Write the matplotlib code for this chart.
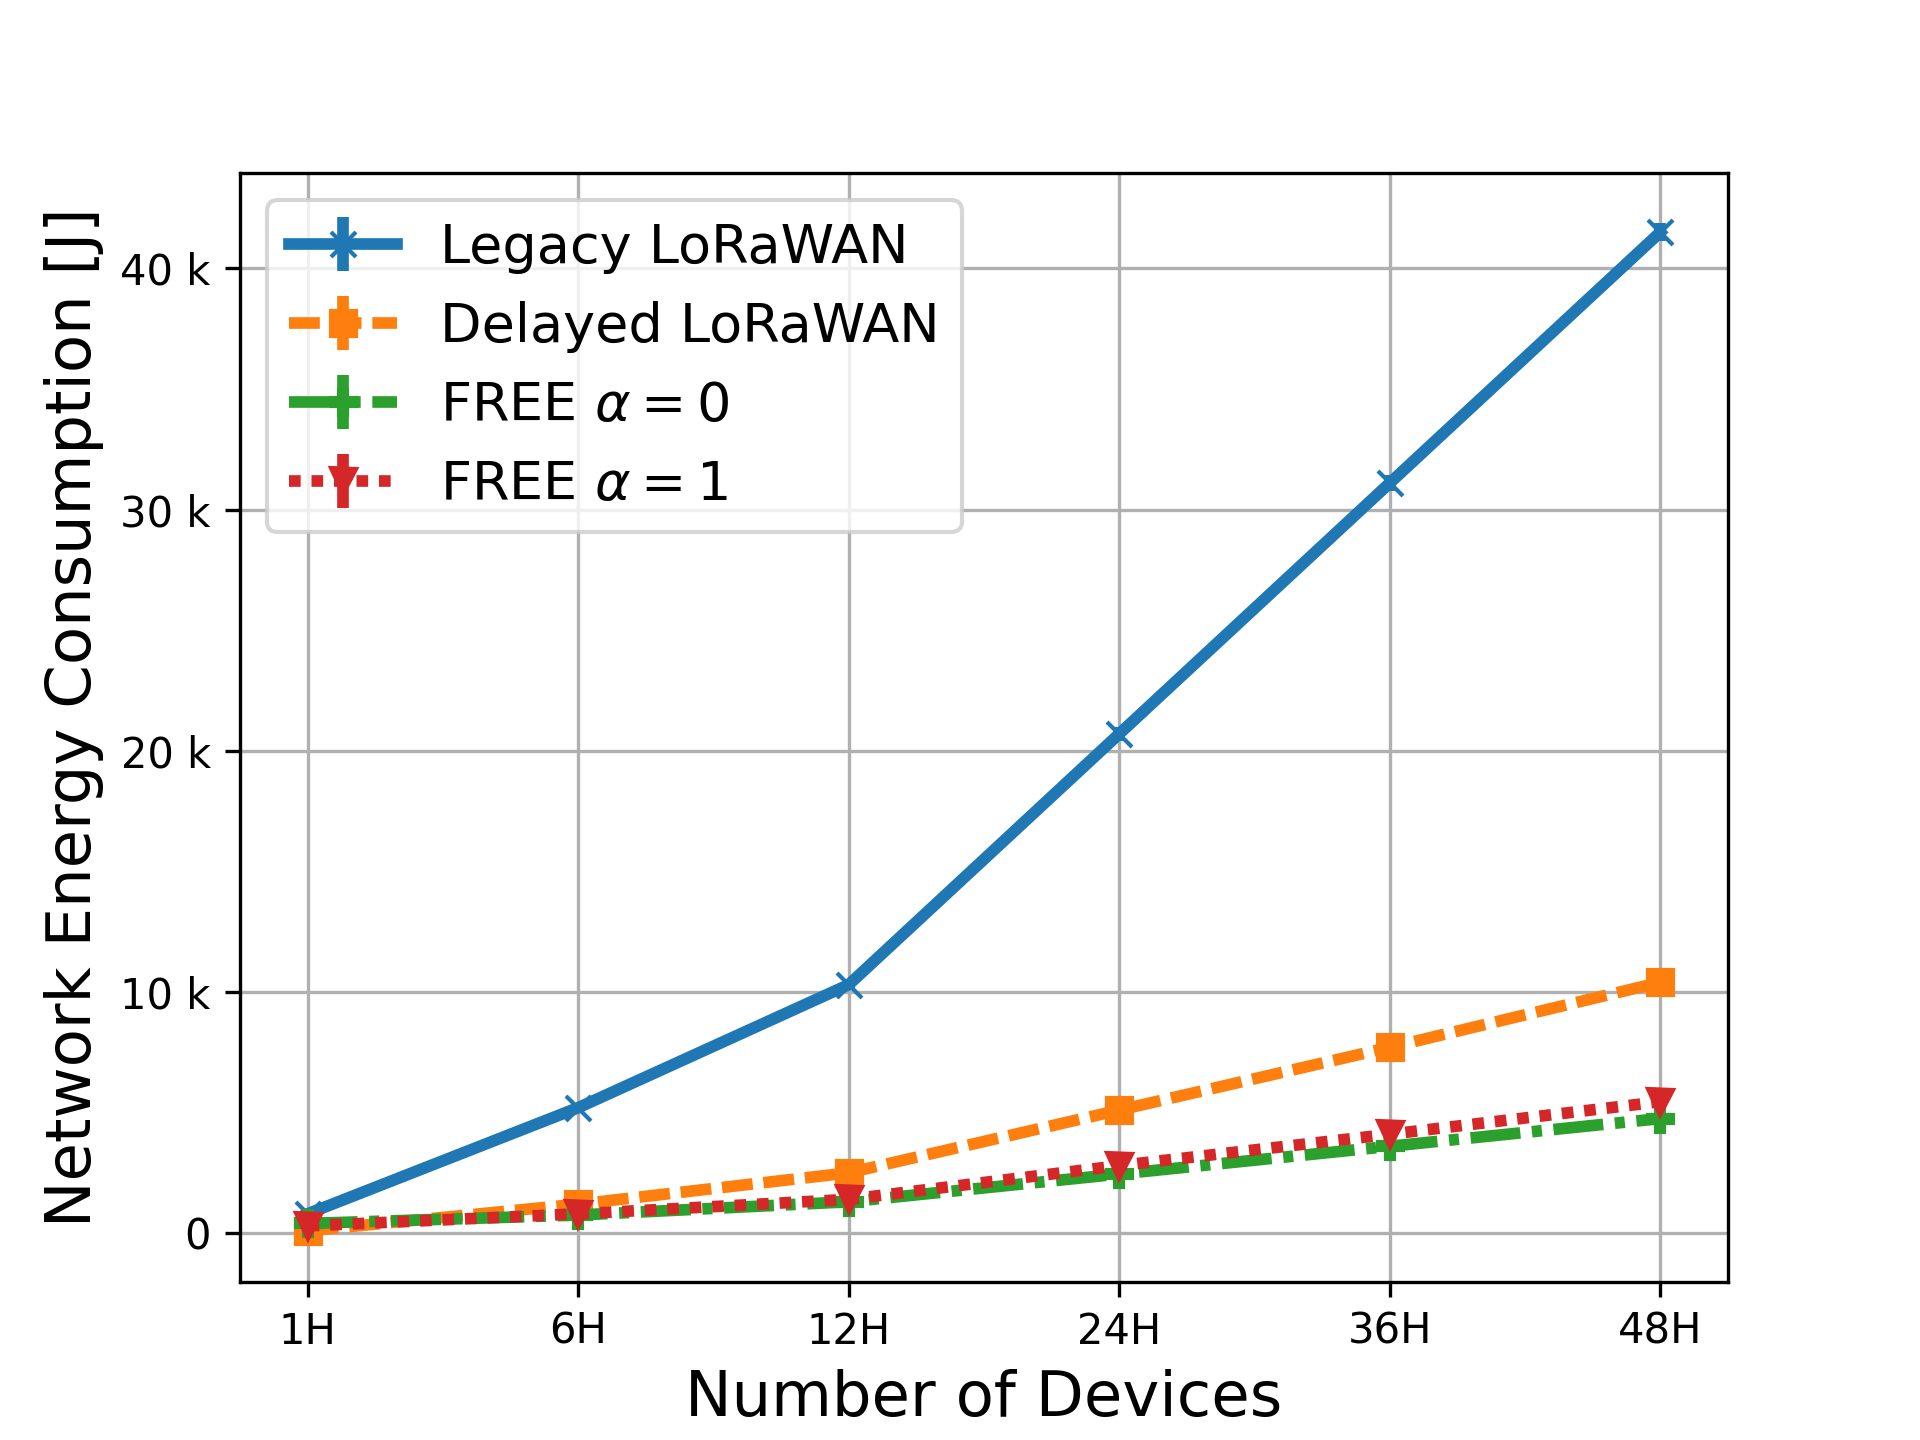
import matplotlib
matplotlib.use("Agg")
import matplotlib.pyplot as plt
from matplotlib.ticker import EngFormatter

plt.rcParams["lines.scale_dashes"] = False

x_labels = ["1H", "6H", "12H", "24H", "36H", "48H"]

legacy = [800, 5200, 10300, 20700, 31100, 41500]
legacy_err = [20, 100, 180, 280, 330, 370]
delayed = [100, 1200, 2500, 5100, 7700, 10400]
delayed_err = [20, 40, 60, 90, 120, 150]
free0 = [400, 750, 1300, 2450, 3600, 4750]
free0_err = [15, 30, 40, 60, 80, 100]
free1 = [300, 800, 1400, 2800, 4100, 5450]
free1_err = [15, 30, 40, 60, 80, 100]

LW = 2.8
fig, ax = plt.subplots(figsize=(6.4, 4.8), dpi=300)
xs = list(range(len(x_labels)))

ax.errorbar(xs, legacy, yerr=legacy_err, marker="x", linestyle="-", lw=LW,
            color="#1f77b4", label="Legacy LoRaWAN")
ax.errorbar(xs, delayed, yerr=delayed_err, marker="s",
            linestyle=(0, (7.4, 2.6)), lw=LW,
            color="#ff7f0e", label="Delayed LoRaWAN")
ax.errorbar(xs, free0, yerr=free0_err, marker="P",
            linestyle=(0, (12, 2.8, 2.4, 2.8)), lw=LW,
            color="#2ca02c", label=r"FREE $\alpha=0$")
ax.errorbar(xs, free1, yerr=free1_err, marker="v",
            linestyle=(0, (2.8, 2.6)), lw=LW,
            color="#d62728", label=r"FREE $\alpha=1$")

ax.set_xticks(xs)
ax.set_xticklabels(x_labels)
ax.yaxis.set_major_formatter(EngFormatter())
ax.grid(True)
ax.set_xlabel("Number of Devices", fontsize=15)
ax.set_ylabel(" Network Energy Consumption [J]", fontsize=15)
ax.legend(loc="upper left", fontsize=13)

fig.savefig("out.png", dpi=300)
